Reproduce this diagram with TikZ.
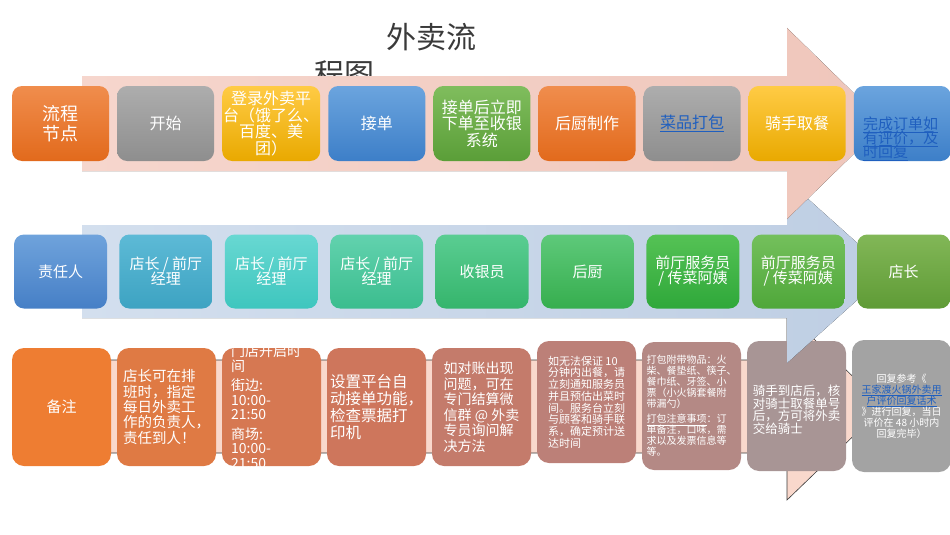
\documentclass[tikz,border=0pt]{standalone}
\usepackage{fontspec}
\usepackage{xcolor}
\usetikzlibrary{positioning}
\newfontfamily\cjk{Noto Sans CJK SC}
\newcommand{\fs}[2]{\fontsize{#1}{#2}\selectfont\lineskiplimit=-20pt}
\tikzset{%
  tone/.style 2 args={top color=#1,bottom color=#2},
  stage/.style={rounded corners=10pt,minimum width=97pt,minimum height=75pt,inner sep=1pt,outer sep=0pt,align=center,text=white,font=\cjk\fs{16}{16.5}},
  duty/.style={rounded corners=10pt,minimum width=93pt,minimum height=74pt,inner sep=1pt,outer sep=0pt,align=center,text=white,font=\cjk\fs{15}{15}},
  remark/.style={rounded corners=12pt,minimum width=99pt,minimum height=118pt,inner sep=1pt,outer sep=0pt,align=left,text=white,font=\cjk\fs{14}{15.5}},
  link/.style={text=linkblue},
}
\definecolor{linkblue}{HTML}{1F5FBF}
\definecolor{titlegray}{HTML}{3A3A3A}
\definecolor{bandpink}{HTML}{F6D6CD}
\definecolor{bandpinkdark}{HTML}{EFC6BB}
\definecolor{bandblue}{HTML}{D3DFEE}
\definecolor{bandbluedark}{HTML}{BECEE3}
\definecolor{notepink}{HTML}{F9D8CC}
\definecolor{orangetop}{HTML}{F08D4D}
\definecolor{orangebot}{HTML}{E26A1C}
\definecolor{graytop}{HTML}{ADADAD}
\definecolor{graybot}{HTML}{8E8E8E}
\definecolor{yellowtop}{HTML}{FFCB45}
\definecolor{yellowbot}{HTML}{E9A900}
\definecolor{bluetop}{HTML}{6BA4DE}
\definecolor{bluebot}{HTML}{3D7FC8}
\definecolor{greentop}{HTML}{80BD5D}
\definecolor{greenbot}{HTML}{5A9E38}
\definecolor{dutyatop}{HTML}{6FA3DC}
\definecolor{dutyabot}{HTML}{467FC6}
\definecolor{dutybtop}{HTML}{5DBAD6}
\definecolor{dutybbot}{HTML}{3DA3C2}
\definecolor{dutyctop}{HTML}{68D8D2}
\definecolor{dutycbot}{HTML}{3EC6BE}
\definecolor{dutydtop}{HTML}{62D2AE}
\definecolor{dutydbot}{HTML}{3BBD8E}
\definecolor{dutyetop}{HTML}{5ACD92}
\definecolor{dutyebot}{HTML}{35B56C}
\definecolor{dutyftop}{HTML}{5EC97A}
\definecolor{dutyfbot}{HTML}{36AE4E}
\definecolor{dutygtop}{HTML}{55C255}
\definecolor{dutygbot}{HTML}{2FA83A}
\definecolor{dutyhtop}{HTML}{74C05C}
\definecolor{dutyhbot}{HTML}{4FA73A}
\definecolor{dutyitop}{HTML}{82B757}
\definecolor{dutyibot}{HTML}{5F9B36}
\definecolor{notea}{HTML}{EE7D32}
\definecolor{noteb}{HTML}{DF7A44}
\definecolor{notec}{HTML}{D67852}
\definecolor{noted}{HTML}{CE765C}
\definecolor{notee}{HTML}{C47B6B}
\definecolor{notef}{HTML}{BC8078}
\definecolor{noteg}{HTML}{B48985}
\definecolor{noteh}{HTML}{A89595}
\definecolor{notei}{HTML}{A3A3A3}

\begin{document}
\begin{tikzpicture}[x=1pt,y=-1pt]
  \useasboundingbox (0,0) rectangle (950,535);

  \fill[notepink,draw=titlegray,line width=0.6pt] (82,360) -- (787,360) -- (787,313) -- (884,406.5) -- (787,500) -- (787,453) -- (82,453) -- cycle;
  \node[remark,fill=notea,align=center,font=\cjk\fs{15}{15}] (remarkhead) at (61.5,407) {备注};
  \node[remark,fill=noteb,right=6pt of remarkhead,font=\cjk\fs{14.5}{15.3}] (shiftlead) {店长可在排\\班时，指定\\每日外卖工\\作的负责人，\\责任到人！};
  \node[remark,fill=notec,right=6pt of shiftlead] (hours) {};
  \begin{scope}
    \clip[rounded corners=12pt] (hours.south west) rectangle (hours.north east);
    \node[text=white,align=left,inner sep=0pt,font=\cjk\fs{14}{14.5},anchor=north west] (hourstext) at ([xshift=9pt,yshift=3pt]hours.north west) {门店开启时\\间\\[5pt]街边:\\10:00-\\21:50\\[5pt]商场:\\10:00-\\21:50};
  \end{scope}
  \node[remark,fill=noted,right=6pt of hours,font=\cjk\fs{15.5}{17}] (autoaccept) {设置平台自\\动接单功能，\\检查票据打\\印机};
  \node[remark,fill=notee,right=6pt of autoaccept] (audit) {如对账出现\\问题，可在\\专门结算微\\信群 @ 外卖\\专员询问解\\决方法};
  \node[remark,fill=notef,right=6pt of audit,yshift=5pt,minimum height=122pt,font=\cjk\fs{11}{11.7}] (delay) {如无法保证 10\\分钟内出餐，请\\立刻通知服务员\\并且预估出菜时\\间。服务台立刻\\与顾客和骑手联\\系，确定预计送\\达时间};
  \node[remark,fill=noteg,right=6pt of delay,yshift=-4pt,minimum height=128pt,font=\cjk\fs{10}{11}] (packing) {打包附带物品：火\\柴、餐垫纸、筷子、\\餐巾纸、牙签、小\\票（小火锅套餐附\\带漏勺）\\[4pt]\underline{打包注意事项}：订\\单备注，口味，需\\求以及发票信息等\\等。};
  \node[remark,fill=noteh,right=6pt of packing,minimum height=130pt,font=\cjk\fs{12.5}{12.7}] (rider) {\mbox{}\\[5.3pt]骑手到店后，核\\对骑士取餐单号\\后，方可将外卖\\交给骑士};
  \node[remark,fill=notei,right=6pt of rider,minimum height=132pt,align=center,font=\cjk\fs{10}{11}] (reply) {回复参考《\\{\color{linkblue}\underline{王家渡火锅外卖用}}\\{\color{linkblue}\underline{户评价回复话术}}\\》进行回复，当日\\评价在 48 小时内\\回复完毕）};

  \fill[left color=bandblue,right color=bandbluedark] (82,225) -- (787,225) -- (787,180) -- (889,271.5) -- (787,363) -- (787,318) -- (82,318) -- cycle;
  \node[duty,tone={dutyatop}{dutyabot}] (dutyhead) at (60.5,271.5) {责任人};
  \node[duty,tone={dutybtop}{dutybbot},right=12.4pt of dutyhead] (managera) {店长 / 前厅\\经理};
  \node[duty,tone={dutyctop}{dutycbot},right=12.4pt of managera] (managerb) {店长 / 前厅\\经理};
  \node[duty,tone={dutydtop}{dutydbot},right=12.4pt of managerb] (managerc) {店长 / 前厅\\经理};
  \node[duty,tone={dutyetop}{dutyebot},right=12.4pt of managerc] (cashier) {收银员};
  \node[duty,tone={dutyftop}{dutyfbot},right=12.4pt of cashier] (kitchen) {后厨};
  \node[duty,tone={dutygtop}{dutygbot},right=12.4pt of kitchen] (waitera) {前厅服务员\\/ 传菜阿姨};
  \node[duty,tone={dutyhtop}{dutyhbot},right=12.4pt of waitera] (waiterb) {前厅服务员\\/ 传菜阿姨};
  \node[duty,tone={dutyitop}{dutyibot},right=12.4pt of waiterb] (owner) {店长};

  \node[font=\cjk\fs{30}{30},text=titlegray] (title) at (431,37) {外卖流};
  \node[font=\cjk\fs{30}{30},text=titlegray] (titletail) at (344,74) {程图};

  \fill[left color=bandpink,right color=bandpinkdark] (82,76) -- (787,76) -- (787,28) -- (885,123.5) -- (787,219) -- (787,171) -- (82,171) -- cycle;
  \node[stage,tone={orangetop}{orangebot},font=\cjk\fs{18}{20}] (flowhead) at (60.5,123.5) {流程\\节点};
  \node[stage,tone={graytop}{graybot},right=8.1pt of flowhead] (start) {开始};
  \node[stage,tone={yellowtop}{yellowbot},right=8.1pt of start] (login) {登录外卖平\\台（饿了么、\\百度、美\\团）};
  \node[stage,tone={bluetop}{bluebot},right=8.1pt of login] (accept) {接单};
  \node[stage,tone={greentop}{greenbot},right=8.1pt of accept] (cashin) {接单后立即\\下单至收银\\系统};
  \node[stage,tone={orangetop}{orangebot},right=8.1pt of cashin] (cook) {后厨制作};
  \node[stage,tone={graytop}{graybot},right=8.1pt of cook,link] (pack) {\underline{菜品打包}};
  \node[stage,tone={yellowtop}{yellowbot},right=8.1pt of pack] (pickup) {骑手取餐};
  \node[stage,tone={bluetop}{bluebot},right=8.1pt of pickup] (finish) {};
  \node[link,align=left,anchor=west,inner sep=0pt,font=\cjk\fs{15}{14}] (finishtext) at ([xshift=9pt,yshift=-15pt]finish.west) {\underline{完成订单如}\\\underline{有评价，及}\\\underline{时回复}};
\end{tikzpicture}
\end{document}
